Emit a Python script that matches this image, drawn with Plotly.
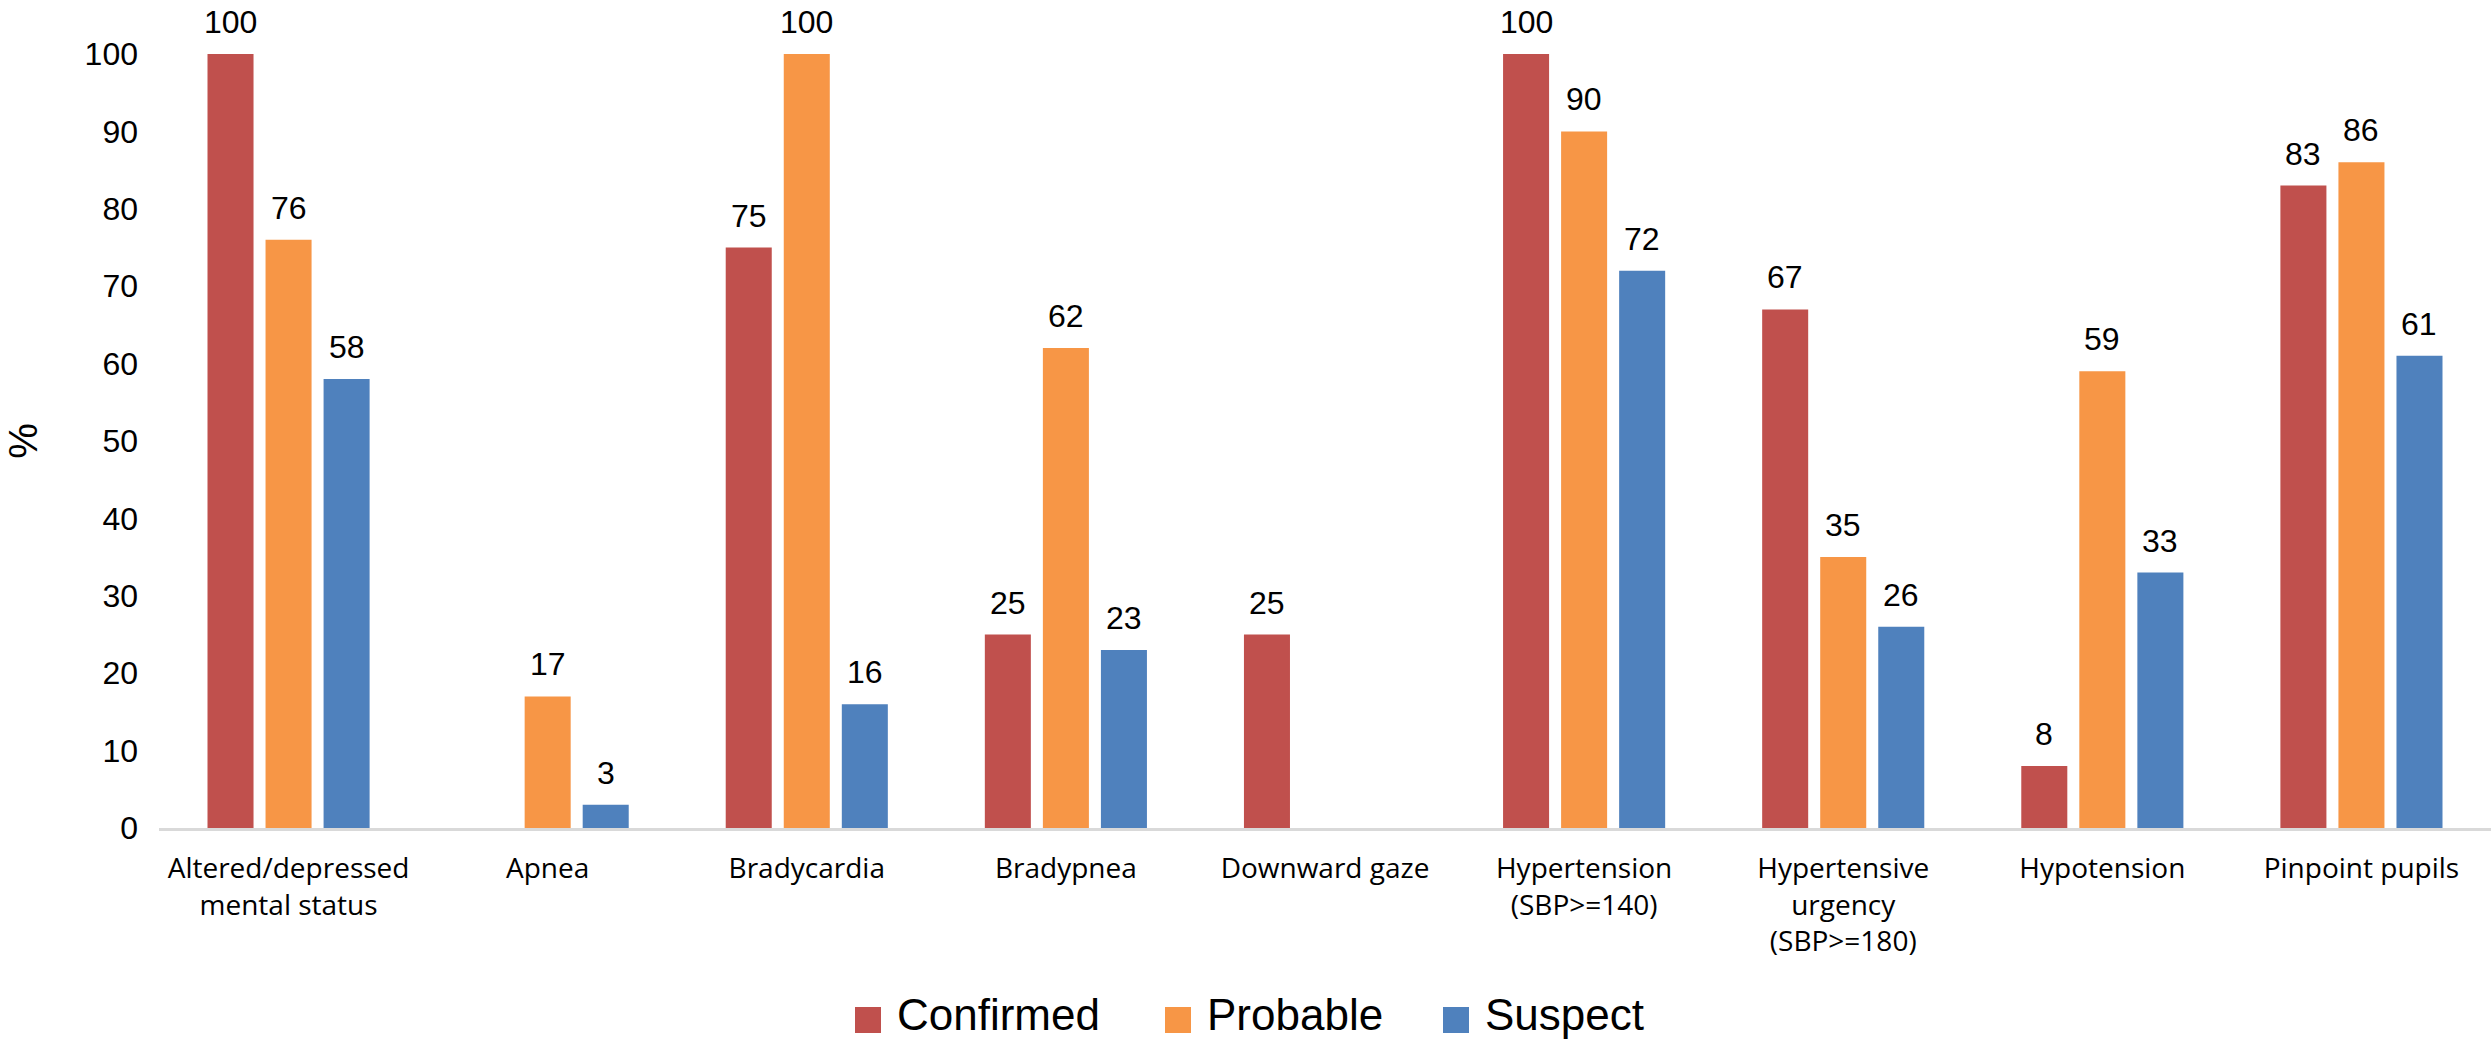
import plotly.graph_objects as go

# Clinical signs by case classification (%)
categories = [
    "Altered/depressed<br>mental status",
    "Apnea",
    "Bradycardia",
    "Bradypnea",
    "Downward gaze",
    "Hypertension<br>(SBP>=140)",
    "Hypertensive<br>urgency<br>(SBP>=180)",
    "Hypotension",
    "Pinpoint pupils",
]
confirmed = [100, None, 75, 25, 25, 100, 67, 8, 83]
probable = [76, 17, 100, 62, None, 90, 35, 59, 86]
suspect = [58, 3, 16, 23, None, 72, 26, 33, 61]

series_names = ["Confirmed", "Probable", "Suspect"]
series_values = [confirmed, probable, suspect]
series_colors = ["#C0504D", "#F79646", "#4F81BD"]

y_ticks = list(range(0, 101, 10))

W, H = 2491, 1042
M_L, M_R, M_T, M_B = 159, 0, 54, 214
plot_w = W - M_L - M_R
plot_h = H - M_T - M_B

num_font = "Liberation Sans, Arial, sans-serif"
cat_font = "Open Sans, Liberation Sans, sans-serif"

fig = go.Figure()
for name, vals, color in zip(series_names, series_values, series_colors):
    fig.add_trace(go.Bar(
        x=categories, y=vals, name=name,
        marker=dict(color=color, line=dict(width=0)),
        showlegend=False, cliponaxis=False,
    ))

# value labels above each bar
slot_px = 58
for k, vals in enumerate(series_values):
    for cat, v in zip(categories, vals):
        if v is None:
            continue
        fig.add_annotation(
            x=cat, y=v, xref="x", yref="y",
            text=str(v), showarrow=False,
            xanchor="center", yanchor="bottom",
            xshift=(k - 1) * slot_px, yshift=12,
            font=dict(family=num_font, size=32, color="#000000"),
        )

# legend: coloured squares with series names
legend_y_px = 1020
sq = 26
legend_left_px = [855, 1165, 1443]
to_py = lambda px: (M_T + plot_h - px) / plot_h
for name, color, lx in zip(series_names, series_colors, legend_left_px):
    x0 = (lx - M_L) / plot_w
    x1 = (lx + sq - M_L) / plot_w
    fig.add_shape(type="rect", xref="paper", yref="paper",
                  x0=x0, x1=x1,
                  y0=to_py(legend_y_px + sq / 2), y1=to_py(legend_y_px - sq / 2),
                  fillcolor=color, line=dict(width=0))
    fig.add_annotation(
        x=(lx + sq + 14 - M_L) / plot_w, y=to_py(H - 1), xref="paper", yref="paper",
        text=name, showarrow=False, xanchor="left", yanchor="bottom",
        font=dict(family=num_font, size=44, color="#000000"),
    )

fig.update_layout(
    width=W, height=H,
    margin=dict(l=M_L, r=M_R, t=M_T, b=M_B, pad=0),
    paper_bgcolor="white", plot_bgcolor="white",
    barmode="group", bargap=0.328, bargroupgap=0.207,
    showlegend=False,
)
fig.update_xaxes(
    type="category", showline=True, linecolor="#D9D9D9", linewidth=2.5,
    showgrid=False, zeroline=False, ticks="",
    tickfont=dict(family=cat_font, size=28, color="#000000"),
    ticklabelstandoff=14,
)
fig.update_yaxes(
    range=[0, 100], tickvals=y_ticks, showgrid=False, zeroline=False,
    showline=False, ticks="",
    tickfont=dict(family=num_font, size=32, color="#000000"),
    ticklabelstandoff=20,
    title=dict(text="%", font=dict(family=num_font, size=40, color="#000000"),
               standoff=34),
)

fig.write_html("out.html")
